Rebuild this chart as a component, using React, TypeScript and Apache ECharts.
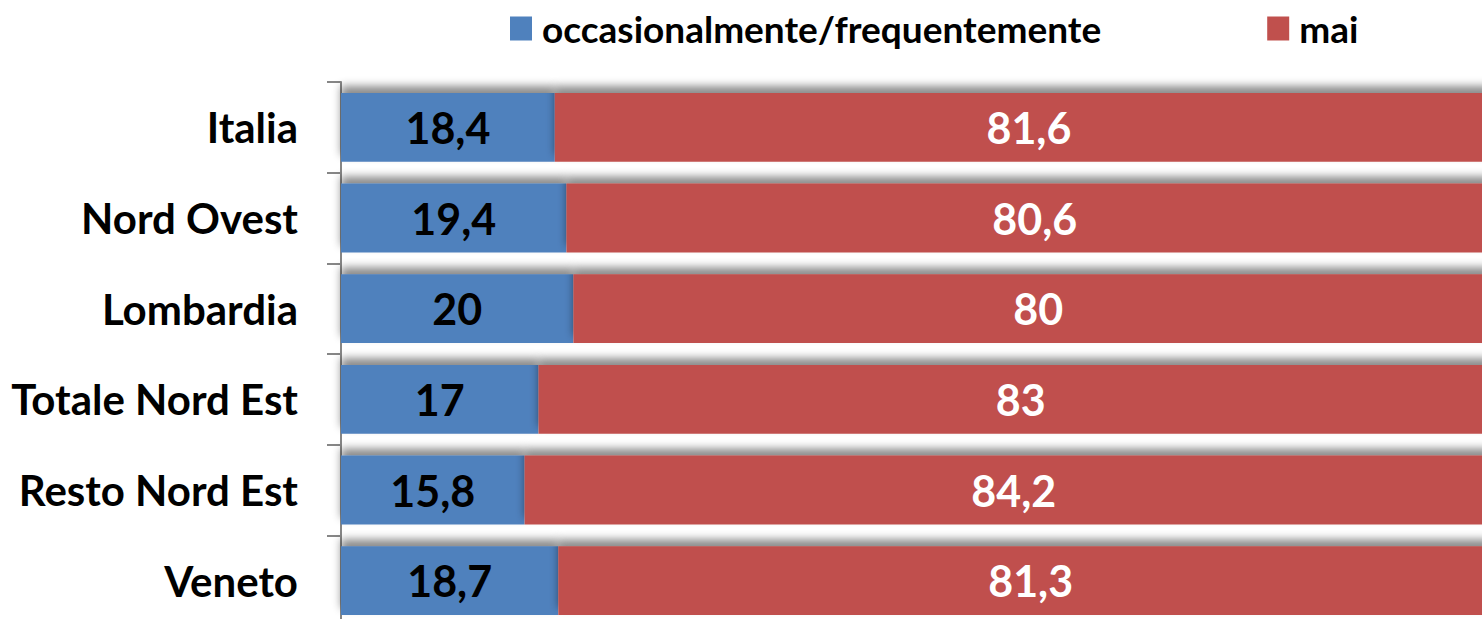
import React, { useEffect, useRef } from "react";
import * as echarts from "echarts";

const categories = ["Italia", "Nord Ovest", "Lombardia", "Totale Nord Est", "Resto Nord Est", "Veneto"];
const occasionali = [18.4, 19.4, 20, 17, 15.8, 18.7];
const mai = [81.6, 80.6, 80, 83, 84.2, 81.3];
const seriesNames = ["occasionalmente/frequentemente", "mai"];

const fmt = (v: number) => String(v).replace(".", ",");

export default function App() {
  const ref = useRef<HTMLDivElement>(null);
  useEffect(() => {
    document.body.style.margin = "0";
    const chart = echarts.init(ref.current!, null, { renderer: "svg" });
    const font = "Lato";
    const shadow = {
      shadowBlur: 8,
      shadowOffsetY: -7,
      shadowColor: "rgba(0,0,0,0.45)",
    };
    const dataLabel = {
      show: true,
      position: "inside",
      fontSize: 43,
      fontWeight: "bold",
      fontFamily: font,
      formatter: (p: any) => fmt(p.value),
    };
    chart.setOption({
      animation: false,
      textStyle: { fontFamily: font },
      legend: {
        top: 10,
        left: 510,
        padding: 0,
        itemWidth: 22,
        itemHeight: 24,
        itemGap: 166,
        icon: "rect",
        textStyle: {
          fontSize: 37,
          lineHeight: 24,
          fontWeight: "bold",
          color: "#000",
          fontFamily: font,
          padding: [0, 0, 0, 5],
        },
        data: seriesNames,
      },
      grid: { left: 341, right: 0, top: 82, bottom: 0, containLabel: false },
      xAxis: {
        type: "value",
        min: 0,
        max: 100,
        show: false,
      },
      yAxis: {
        type: "category",
        inverse: true,
        data: categories,
        axisLine: { show: true, lineStyle: { color: "#868686", width: 2 } },
        axisTick: { show: true, length: 14, lineStyle: { color: "#868686", width: 2 } },
        axisLabel: { margin: 43, fontSize: 42, fontWeight: "bold", color: "#000", fontFamily: font },
      },
      series: [
        {
          name: seriesNames[0],
          type: "bar",
          stack: "s",
          data: occasionali,
          barCategoryGap: "24%",
          itemStyle: { color: "#4F81BD", ...shadow },
          label: { ...dataLabel, color: "#000" },
        },
        {
          name: seriesNames[1],
          type: "bar",
          stack: "s",
          data: mai,
          itemStyle: { color: "#C0504D", ...shadow },
          label: { ...dataLabel, color: "#fff" },
        },
      ],
    });
    return () => chart.dispose();
  }, []);
  return (
    <div style={{ position: "absolute", left: 0, top: 0, width: 1482, height: 619, overflow: "hidden" }}>
      <div ref={ref} style={{ width: 1503, height: 626 }} />
    </div>
  );
}
